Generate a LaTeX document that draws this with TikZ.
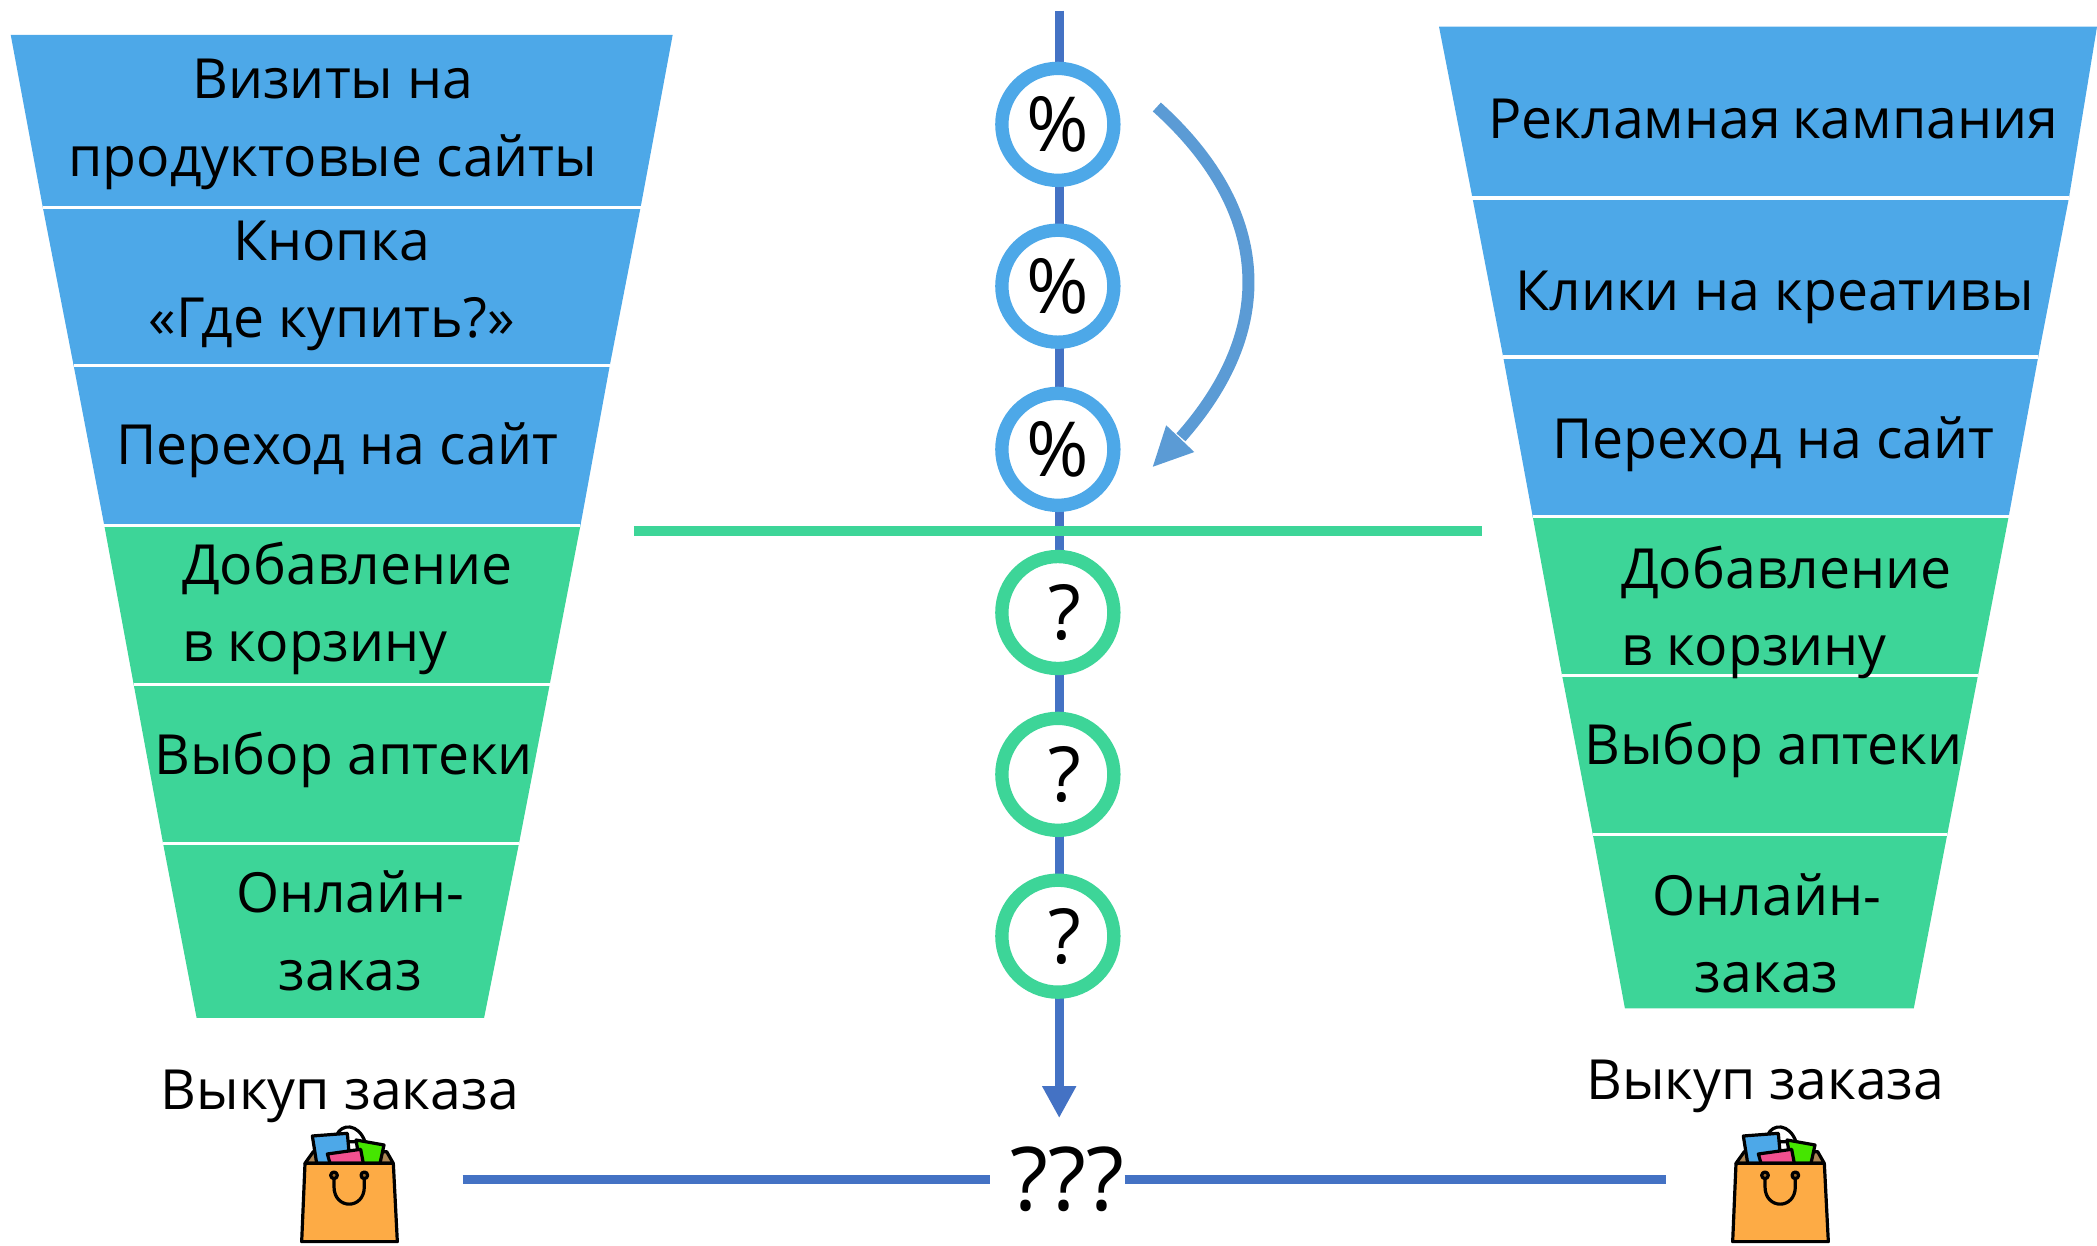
\documentclass[tikz,border=0pt]{standalone}
\usepackage{fontspec}
\setmainfont{Open Sans}
\usetikzlibrary{arrows.meta}
\definecolor{fblue}{HTML}{4DA8E8}
\definecolor{fgreen}{HTML}{3DD598}
\definecolor{axis}{HTML}{4472C4}
\definecolor{arc}{HTML}{5B9BD5}
\definecolor{bagor}{HTML}{FDAB45}
\tikzset{
 x=1.00305pt,y=-1.00305pt,
 band/.style={draw=white,line width=2.4pt},
 lbl/.style={font=\fontsize{41.5}{58}\selectfont,text=black,inner sep=0pt,align=center},
 lbll/.style={lbl,align=left},
 qmark/.style={font=\fontsize{57}{60}\selectfont,inner sep=0pt},
 ring/.style={circle,draw=#1,line width=10pt,fill=white,minimum size=84pt,inner sep=0pt,font=\fontsize{57}{60}\selectfont},
 axisln/.style={draw=axis,line width=7pt},
 bagln/.style={draw=black,line width=2.4pt,line join=round},
 bag/.pic={
  \begin{scope}[scale=0.2492]
   \path[bagln,fill=white] (200,105) .. controls (215,70) and (265,70) .. (285,125) -- (200,125) -- cycle;
   \path[bagln,fill=bagor!60!black!80] (105,190) -- (130,155) -- (350,155) -- (370,190) -- cycle;
   \path[bagln,fill=fblue] (127,108) -- (232,100) -- (240,190) -- (140,190) -- cycle;
   \path[bagln,fill=green!70!yellow!90!black] (258,120) -- (342,135) -- (330,190) -- (270,190) -- cycle;
   \path[bagln,fill=magenta!70!red!70!white] (172,162) -- (272,148) -- (280,190) -- (180,190) -- cycle;
   \path[bagln,fill=bagor] (105,190) -- (370,190) -- (382,425) -- (95,425) -- cycle;
   \path[bagln] (192,228) -- (192,260) .. controls (192,330) and (283,330) .. (283,260) -- (283,228);
   \path[bagln,fill=bagor!60!black] (192,226) circle[radius=10pt];
   \path[bagln,fill=bagor!60!black] (283,226) circle[radius=10pt];
  \end{scope}
 }
}
\begin{document}
\begin{tikzpicture}
\useasboundingbox (0,0) rectangle (1568,931);
% left funnel
\fill[fblue] (8,26) -- (503,26) -- (479,155) -- (32,155) -- cycle;
\fill[fblue] (32,155) -- (479,155) -- (456,273) -- (55,273) -- cycle;
\fill[fblue] (55,273) -- (456,273) -- (434,393) -- (78,393) -- cycle;
\fill[fgreen] (78,393) -- (434,393) -- (411,512) -- (100,512) -- cycle;
\fill[fgreen] (100,512) -- (411,512) -- (388,631) -- (122,631) -- cycle;
\fill[fgreen] (122,631) -- (388,631) -- (362,761) -- (147,761) -- cycle;
\foreach \a/\b/\c in {32/479/155,55/456/273,78/434/393,100/411/512,122/388/631}
  \draw[band] (\a,\c) -- (\b,\c);
% right funnel
\fill[fblue] (1076,20) -- (1568,20) -- (1547,148) -- (1101,148) -- cycle;
\fill[fblue] (1101,148) -- (1547,148) -- (1524,267) -- (1124,267) -- cycle;
\fill[fblue] (1124,267) -- (1524,267) -- (1502,386) -- (1146,386) -- cycle;
\fill[fgreen] (1146,386) -- (1502,386) -- (1479,505) -- (1168,505) -- cycle;
\fill[fgreen] (1168,505) -- (1479,505) -- (1456,624) -- (1191,624) -- cycle;
\fill[fgreen] (1191,624) -- (1456,624) -- (1431,754) -- (1215,754) -- cycle;
\foreach \a/\b/\c in {1101/1547/148,1124/1524/267,1146/1502/386,1168/1479/505,1191/1456/624}
  \draw[band] (\a,\c) -- (\b,\c);
% left labels
\node[lbl] (l1) at (249,93) {Визиты на\\продуктовые сайты};
\node[lbl] (l2) at (248,214) {Кнопка\\«Где купить?»};
\node[lbl] (l3) at (252,337) {Переход на сайт};
\node[lbll,anchor=west] (l4) at (136,455) {Добавление\\в корзину};
\node[lbl] (l5) at (257,568) {Выбор аптеки};
\node[lbl] (l6) at (262,696) {Онлайн-\\заказ};
\node[lbl] (l7) at (254,820) {Выкуп заказа};
% right labels
\node[lbl] (r1) at (1326,89) {Рекламная\hskip0.2em кампания};
\node[lbl] (r2) at (1327,222) {Клики на креативы};
\node[lbl] (r3) at (1326,332) {Переход на сайт};
\node[lbll,anchor=west] (r4) at (1212,458) {Добавление\\в корзину};
\node[lbl] (r5) at (1326,561) {Выбор аптеки};
\node[lbl] (r6) at (1321,698) {Онлайн-\\заказ};
\node[lbl] (r7) at (1320,812) {Выкуп заказа};
% axis
\coordinate (top) at (792,8);
\coordinate (bot) at (792,836);
\draw[axisln,-{Triangle[length=24pt,width=24pt]}] (top) -- (bot);
\coordinate (gl) at (474,397);
\coordinate (gr) at (1108,397);
\draw[draw=fgreen,line width=7.5pt] (gl) -- (gr);
\node[ring=fblue] (c1) at (791,93) {\raisebox{-2pt}{\%}};
\node[ring=fblue] (c2) at (791,214) {\raisebox{-2pt}{\%}};
\node[ring=fblue] (c3) at (791,336) {\raisebox{-2pt}{\%}};
\node[ring=fgreen] (c4) at (791,458) {};
\node[ring=fgreen] (c5) at (791,579) {};
\node[ring=fgreen] (c6) at (791,700) {};
\node[qmark] (q4) at (796,458) {?};
\node[qmark] (q5) at (796,579) {?};
\node[qmark] (q6) at (796,700) {?};
% curved arrow
\coordinate (as) at (865,80);
\coordinate (ae) at (883,327);
\draw[draw=arc,line width=9pt] (as) .. controls (945,152) and (960,240) .. (ae);
\fill[arc] (872,318) -- (893,338) -- (862,349) -- cycle;
% bottom
\node[lbl,font=\fontsize{66}{68}\selectfont] (q) at (798,882) {???};
\coordinate (bl) at (346,882);
\coordinate (blr) at (740,882);
\coordinate (brl) at (841,882);
\coordinate (br) at (1246,882);
\draw[axisln] (bl) -- (blr);
\draw[axisln] (brl) -- (br);
\pic at (201.9,822.5) {bag};
\pic at (1271.9,822.5) {bag};
\end{tikzpicture}
\end{document}
